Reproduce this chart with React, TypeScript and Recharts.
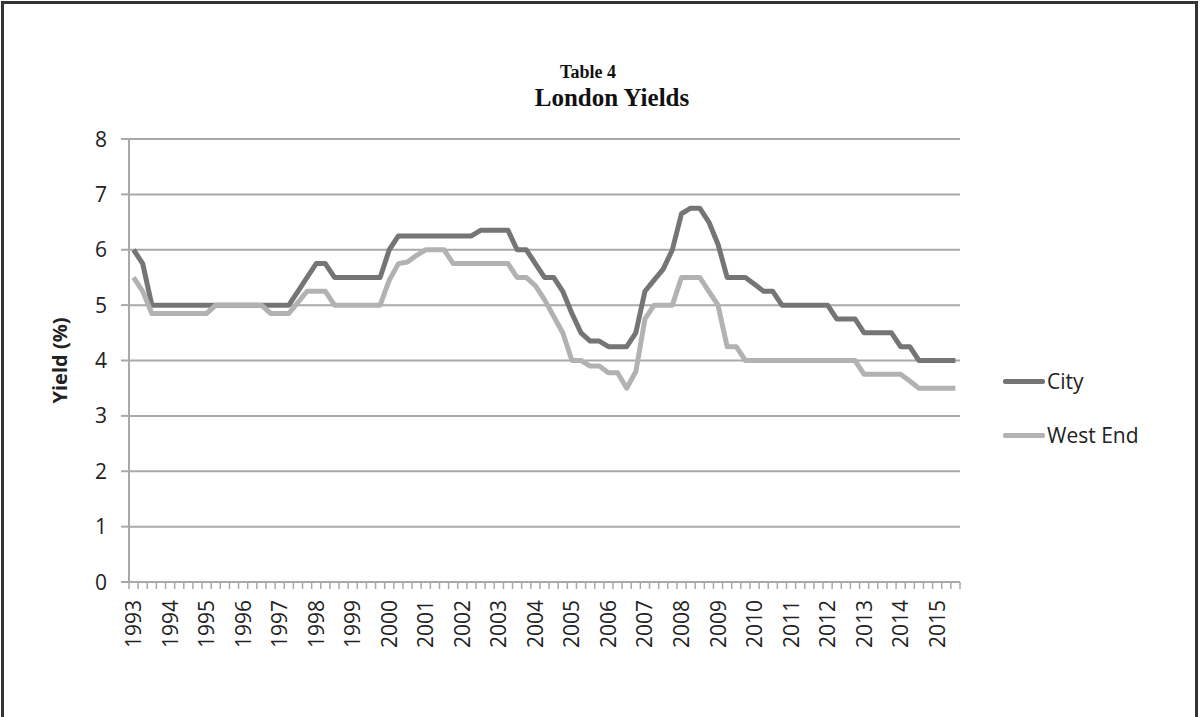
import React from 'react';
import { LineChart, Line, XAxis, YAxis, CartesianGrid, Legend } from 'recharts';

// tick labels along the bottom, one per year (first quarter)
const years = [
  '1993', '1994', '1995', '1996', '1997', '1998', '1999', '2000', '2001', '2002', '2003', '2004',
  '2005', '2006', '2007', '2008', '2009', '2010', '2011', '2012', '2013', '2014', '2015',
];

// quarterly yields, 1993 Q1 .. 2015 Q3 (91 points)
const city = [
  6.0, 5.75, 5.0, 5.0, 5.0, 5.0, 5.0, 5.0, 5.0, 5.0, 5.0, 5.0, 5.0, 5.0, 5.0, 5.0, 5.0, 5.0,
  5.25, 5.5, 5.75, 5.75,
  5.5, 5.5, 5.5, 5.5, 5.5, 5.5,
  6.0,
  6.25, 6.25, 6.25, 6.25, 6.25, 6.25, 6.25, 6.25, 6.25,
  6.35, 6.35, 6.35, 6.35,
  6.0, 6.0, 5.75, 5.5, 5.5, 5.25, 4.85, 4.5, 4.35, 4.35, 4.25, 4.25, 4.25, 4.5, 5.25, 5.45,
  5.65, 6.0, 6.65, 6.75, 6.75, 6.5, 6.1, 5.5, 5.5, 5.5, 5.375, 5.25, 5.25,
  5.0, 5.0, 5.0, 5.0, 5.0, 5.0,
  4.75, 4.75, 4.75,
  4.5, 4.5, 4.5, 4.5,
  4.25, 4.25,
  4.0, 4.0, 4.0, 4.0, 4.0,
];

const westEnd = [
  5.5, 5.25,
  4.85, 4.85, 4.85, 4.85, 4.85, 4.85, 4.85,
  5.0, 5.0, 5.0, 5.0, 5.0, 5.0,
  4.85, 4.85, 4.85,
  5.05,
  5.25, 5.25, 5.25,
  5.0, 5.0, 5.0, 5.0, 5.0, 5.0,
  5.45, 5.75, 5.78, 5.9, 6.0, 6.0, 6.0,
  5.75, 5.75, 5.75, 5.75, 5.75, 5.75, 5.75,
  5.5, 5.5, 5.35, 5.1, 4.8, 4.5, 4.0, 4.0, 3.9, 3.9, 3.78, 3.78, 3.5, 3.8, 4.75, 5.0,
  5.0, 5.0, 5.5, 5.5, 5.5, 5.25, 5.0, 4.25, 4.25,
  4.0, 4.0, 4.0, 4.0, 4.0, 4.0, 4.0, 4.0, 4.0, 4.0, 4.0, 4.0, 4.0,
  3.75, 3.75, 3.75, 3.75, 3.75,
  3.63,
  3.5, 3.5, 3.5, 3.5, 3.5,
];

const yTicks = [0, 1, 2, 3, 4, 5, 6, 7, 8];

const CITY_COLOR = '#757575';
const WEST_COLOR = '#b2b2b2';
const GRID = '#a9a9a9';
const FONT = '"Open Sans", sans-serif';

const data = city.map((c, i) => ({
  idx: i,
  quarter: `${years[Math.floor(i / 4)]} Q${(i % 4) + 1}`,
  city: c,
  westEnd: westEnd[i],
}));

// category boundaries, for the small tick marks between quarters
const boundaries = [...city.map((_, i) => i - 0.5), city.length - 0.5];

const XTick = ({ x, y, payload }: any) => {
  const k = payload.value + 0.5;
  if (k % 4 !== 0 || k >= city.length) return null;
  const label = years[k / 4];
  const px = x + 4.6 + 7.5;
  const py = y + 9;
  return (
    <text
      x={px}
      y={py}
      transform={`rotate(-90, ${px}, ${py})`}
      textAnchor="end"
      fill="#222"
      fontSize={21}
      fontFamily={FONT}
    >
      {label}
    </text>
  );
};

const YTick = ({ x, y, payload }: any) => (
  <text x={x - 12} y={y} dy="0.36em" textAnchor="end" fill="#222" fontSize={21} fontFamily={FONT}>
    {payload.value}
  </text>
);

const renderLegend = () => (
  <div style={{ fontFamily: FONT, fontSize: 21, color: '#222' }}>
    {[
      { name: 'City', color: CITY_COLOR },
      { name: 'West End', color: WEST_COLOR },
    ].map((s, i) => (
      <div key={s.name} style={{ display: 'flex', alignItems: 'center', height: 30, marginBottom: i === 0 ? 24 : 0 }}>
        <div style={{ width: 42, height: 5, background: s.color, borderRadius: 2, marginRight: 2 }} />
        <span>{s.name}</span>
      </div>
    ))}
  </div>
);

export default function App() {
  return (
    <div style={{ position: 'relative', width: 1200, height: 717, overflow: 'hidden', background: '#fff' }}>
      <style>{'body{margin:0}'}</style>
      <div
        style={{
          position: 'absolute', left: 1, top: 1, width: 1197, height: 740,
          border: '3px solid #333', boxSizing: 'border-box',
        }}
      />
      <div
        style={{
          position: 'absolute', left: 488, width: 200, top: 62, textAlign: 'center',
          fontFamily: '"Liberation Serif", serif', fontWeight: 'bold', fontSize: 18, color: '#111',
        }}
      >
        Table 4
      </div>
      <div
        style={{
          position: 'absolute', left: 462, width: 300, top: 84, textAlign: 'center',
          fontFamily: '"Liberation Serif", serif', fontWeight: 'bold', fontSize: 25, color: '#111',
        }}
      >
        London Yields
      </div>
      <LineChart
        width={1200}
        height={717}
        data={data}
        margin={{ top: 139, right: 240, bottom: 55, left: 29 }}
        style={{ position: 'absolute', left: 0, top: 0 }}
      >
        <CartesianGrid vertical={false} stroke={GRID} strokeWidth={2} />
        <XAxis
          dataKey="idx"
          type="number"
          domain={[-0.5, city.length - 0.5]}
          ticks={boundaries}
          interval={0}
          height={80}
          axisLine={{ stroke: GRID, strokeWidth: 2 }}
          tickLine={{ stroke: GRID, strokeWidth: 1.5 }}
          tickSize={7}
          tick={<XTick />}
        />
        <YAxis
          type="number"
          domain={[0, 8]}
          ticks={yTicks}
          width={100}
          axisLine={{ stroke: GRID, strokeWidth: 2 }}
          tickLine={{ stroke: GRID, strokeWidth: 2 }}
          tickSize={8}
          tick={<YTick />}
          label={{
            value: 'Yield (%)',
            angle: -90,
            position: 'insideLeft',
            offset: 31,
            style: { textAnchor: 'middle', fontFamily: FONT, fontWeight: 'bold', fontSize: 20, fill: '#222' },
          }}
        />
        <Legend
          content={renderLegend}
          layout="horizontal"
          verticalAlign="middle"
          align="center"
          wrapperStyle={{ position: 'absolute', left: 1003, top: 366, width: 190 }}
        />
        <Line
          type="linear"
          dataKey="city"
          name="City"
          stroke={CITY_COLOR}
          strokeWidth={5}
          dot={false}
          strokeLinejoin="round"
          isAnimationActive={false}
        />
        <Line
          type="linear"
          dataKey="westEnd"
          name="West End"
          stroke={WEST_COLOR}
          strokeWidth={5}
          dot={false}
          strokeLinejoin="round"
          isAnimationActive={false}
        />
      </LineChart>
    </div>
  );
}
